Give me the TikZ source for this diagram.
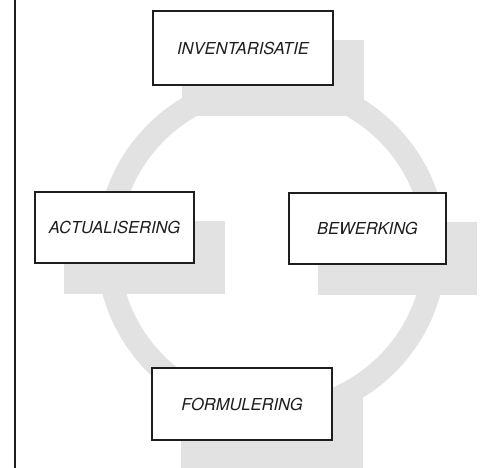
\documentclass[tikz,border=0pt]{standalone}
\usepackage{fontspec}
\setmainfont{TeX Gyre Heros}
\usetikzlibrary{calc,backgrounds}
\definecolor{shadegray}{RGB}{226,226,226}
\definecolor{inkline}{RGB}{30,30,30}
\tikzset{
  stagebox/.style={draw=inkline, line width=1.4pt, fill=white, inner sep=0pt,
    font=\fontsize{16.5}{18}\selectfont\itshape, text=inkline},
  shadow/.style={fill=shadegray},
}
\begin{document}
\begin{tikzpicture}[x=1pt,y=-1pt]
\useasboundingbox (0,0) rectangle (485,468);
\clip (0,0) rectangle (485,468);
\node[stagebox, minimum width=180pt, minimum height=74pt] (inv) at (243,48) {INVENTARISATIE};
\node[stagebox, minimum width=159pt, minimum height=71pt] (act) at (114.5,227.5) {ACTUALISERING};
\node[stagebox, minimum width=157pt, minimum height=71pt] (bew) at (367.5,228.5) {BEWERKING};
\node[stagebox, minimum width=180pt, minimum height=72pt] (form) at (242,404) {FORMULERING};
\coordinate (ctr) at (271.5,248.4);
\coordinate (linetop) at (15,0);
\coordinate (linebot) at (15,468);
\draw[inkline, line width=1.4pt] (linetop) -- (linebot);
\begin{scope}[on background layer]
  \fill[shadegray, even odd rule] (ctr) circle[radius=175pt] (ctr) circle[radius=152pt];
  \foreach \b in {inv,act,bew,form}{
    \fill[shadow] ($(\b.south west)+(30,30)$) rectangle ($(\b.north east)+(30,30)$);
  }
\end{scope}
\end{tikzpicture}
\end{document}
